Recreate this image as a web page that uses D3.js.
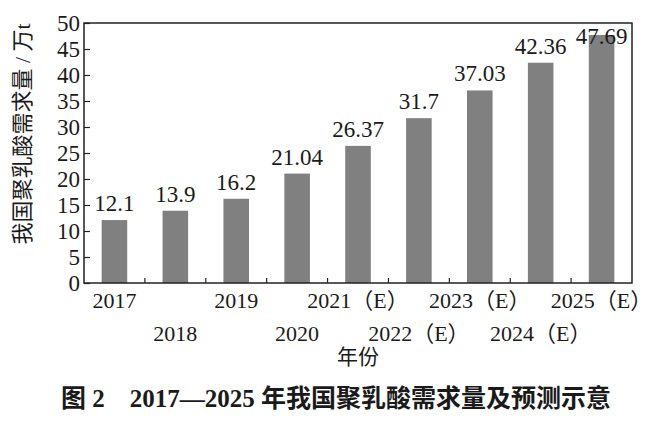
<!DOCTYPE html>
<html>
<head>
<meta charset="utf-8">
<script src="https://cdn.jsdelivr.net/npm/d3@7"></script>
<style>
  body { margin: 0; background: #fff; }
  text { font-family: "Liberation Serif", "Noto Sans CJK SC", serif; fill: #1a1a1a; }
</style>
</head>
<body>
<svg id="chart"></svg>
<script>
var width = 669;
var height = 422;

var years = ["2017", "2018", "2019", "2020", "2021（E）", "2022（E）", "2023（E）", "2024（E）", "2025（E）"];
var demand = [12.1, 13.9, 16.2, 21.04, 26.37, 31.7, 37.03, 42.36, 47.69];
var demandLabels = ["12.1", "13.9", "16.2", "21.04", "26.37", "31.7", "37.03", "42.36", "47.69"];
var yTicks = [0, 5, 10, 15, 20, 25, 30, 35, 40, 45, 50];

var margin = {left: 84, right: 37, top: 23, bottom: 139};
var plotW = width - margin.left - margin.right;
var plotH = height - margin.top - margin.bottom;

var svg = d3.select("#chart")
    .attr("width", width)
    .attr("height", height);

var g = svg.append("g")
    .attr("transform", "translate(" + margin.left + "," + margin.top + ")");

var x = d3.scaleBand()
    .domain(years)
    .range([0, plotW])
    .paddingInner(0.58)
    .paddingOuter(0.29);

var y = d3.scaleLinear()
    .domain([0, 50])
    .range([plotH, 0]);

// bars
g.selectAll(".bar")
    .data(demand)
    .enter()
    .append("rect")
    .attr("x", function (d, i) { return x(years[i]); })
    .attr("y", function (d) { return y(d); })
    .attr("width", x.bandwidth())
    .attr("height", function (d) { return plotH - y(d); })
    .style("fill", "#808080");

// value labels (the last one is pushed down under the frame)
g.selectAll(".val")
    .data(demand)
    .enter()
    .append("text")
    .attr("x", function (d, i) { return x(years[i]) + x.bandwidth() / 2; })
    .attr("y", function (d) { return Math.max(y(d) - 9, 21); })
    .attr("text-anchor", "middle")
    .style("font-size", "23px")
    .text(function (d, i) { return demandLabels[i]; });

// y axis: ticks point inward
var yAxis = d3.axisLeft(y)
    .tickValues(yTicks)
    .tickSize(-6)
    .tickPadding(4);
var yg = g.append("g").call(yAxis);
yg.select(".domain").remove();
yg.selectAll("line").attr("stroke", "#222").attr("stroke-width", 1.2);
yg.selectAll("text")
    .style("font-size", "23px")
    .style("font-family", "'Liberation Serif', serif")
    .attr("dy", "0.34em")
    .style("fill", "#1a1a1a");

// x ticks between categories, pointing up
var bounds = years.slice(1).map(function (c) { return x(c) - x.step() * x.paddingInner() / 2; });
g.selectAll(".xtick")
    .data(bounds)
    .enter()
    .append("line")
    .attr("x1", function (d) { return d; })
    .attr("x2", function (d) { return d; })
    .attr("y1", plotH)
    .attr("y2", plotH - 5)
    .attr("stroke", "#222")
    .attr("stroke-width", 1.2);

// frame
g.append("rect")
    .attr("x", 0)
    .attr("y", 0)
    .attr("width", plotW)
    .attr("height", plotH)
    .style("fill", "none")
    .style("stroke", "#222")
    .style("stroke-width", 1.5);

// staggered category labels
g.selectAll(".cat")
    .data(years)
    .enter()
    .append("text")
    .attr("x", function (d) { return x(d) + x.bandwidth() / 2; })
    .attr("y", function (d, i) { return i % 2 === 0 ? plotH + 25 : plotH + 58; })
    .attr("text-anchor", "middle")
    .style("font-size", "22px")
    .text(function (d) { return d; });

// axis titles
svg.append("text")
    .attr("x", margin.left + plotW / 2)
    .attr("y", 364)
    .attr("text-anchor", "middle")
    .style("font-size", "21px")
    .text("年份");

svg.append("text")
    .attr("transform", "translate(30,134) rotate(-90)")
    .attr("text-anchor", "middle")
    .style("font-size", "22px")
    .text("我国聚乳酸需求量 / 万t");

// figure caption
svg.append("text")
    .attr("x", 336)
    .attr("y", 407)
    .attr("text-anchor", "middle")
    .style("font-size", "25px")
    .style("font-weight", "bold")
    .text("图 2　2017—2025 年我国聚乳酸需求量及预测示意");
</script>
</body>
</html>
